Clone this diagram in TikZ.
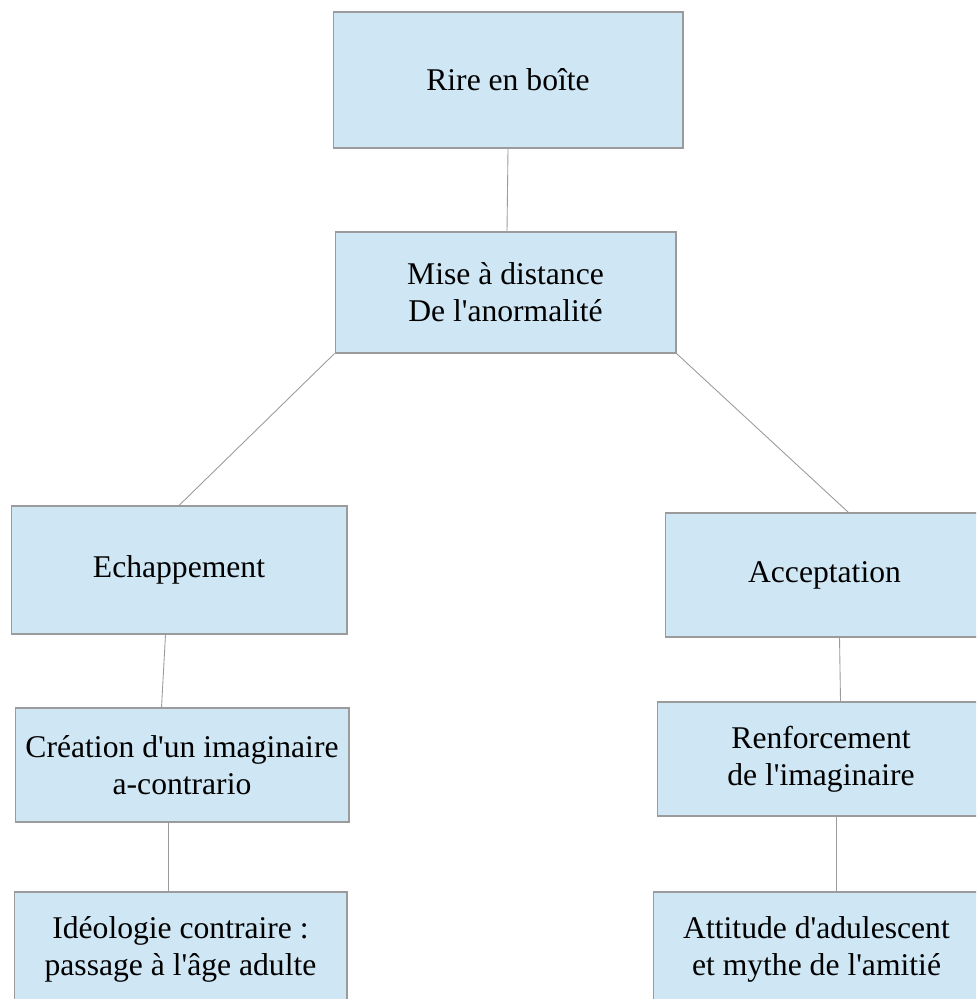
\documentclass[tikz,border=0pt]{standalone}
\usepackage{fontspec}
\newfontfamily\boxfont{Liberation Serif}
\usepackage{xcolor}
\usepackage{tikz}
\usetikzlibrary{positioning, calc}

\definecolor{boxfill}{RGB}{207,230,244}
\definecolor{boxline}{RGB}{155,155,155}

\begin{document}
\begin{tikzpicture}[
    x=0.02cm, y=-0.02cm,
    box/.style={draw=boxline, line width=0.6pt, fill=boxfill, inner sep=2pt, font=\boxfont\fontsize{18}{21}\selectfont, align=center},
    link/.style={draw=boxline, line width=0.5pt}
]
    \useasboundingbox (0,0) rectangle (976,999);
    \clip (0,0) rectangle (976,999);

    \node[box, minimum width=7.00cm, minimum height=2.72cm] (rire) at (508,80) {Rire en boîte};
    \node[box, minimum width=6.82cm, minimum height=2.42cm] (mise) at (505.5,292.5) {Mise à distance\\De l'anormalité};

    \node[box, minimum width=6.72cm, minimum height=2.56cm] (echap) at (179,570) {Echappement};
    \node[box, minimum width=6.68cm, minimum height=2.28cm] (creation) at (182,765) {Création d'un imaginaire\\a-contrario};
    \node[box, minimum width=6.66cm, minimum height=2.28cm] (ideo) at (180.5,949) {Idéologie contraire :\\passage à l'âge adulte};

    \node[box, minimum width=6.38cm, minimum height=2.48cm] (accept) at (824.5,575) {Acceptation};
    \node[box, minimum width=6.56cm, minimum height=2.28cm] (renf) at (821,759) {Renforcement\\de l'imaginaire};
    \node[box, minimum width=6.54cm, minimum height=2.28cm] (attit) at (816.5,949) {Attitude d'adulescent\\et mythe de l'amitié};

    \draw[link] (rire.south) -- ($(mise.north)+(1.5,0)$);
    \draw[link] (mise.south west) -- (echap.north);
    \draw[link] (mise.south east) -- ($(accept.north west)+(184,0)$);
    \draw[link] ($(echap.south west)+(155,0)$) -- ($(creation.north west)+(147,0)$);
    \draw[link] ($(creation.south west)+(154,0)$) -- ($(ideo.north west)+(155,0)$);
    \draw[link] ($(accept.south west)+(175,0)$) -- ($(renf.north west)+(184,0)$);
    \draw[link] ($(renf.south west)+(180,0)$) -- ($(attit.north west)+(184,0)$);
\end{tikzpicture}
\end{document}
